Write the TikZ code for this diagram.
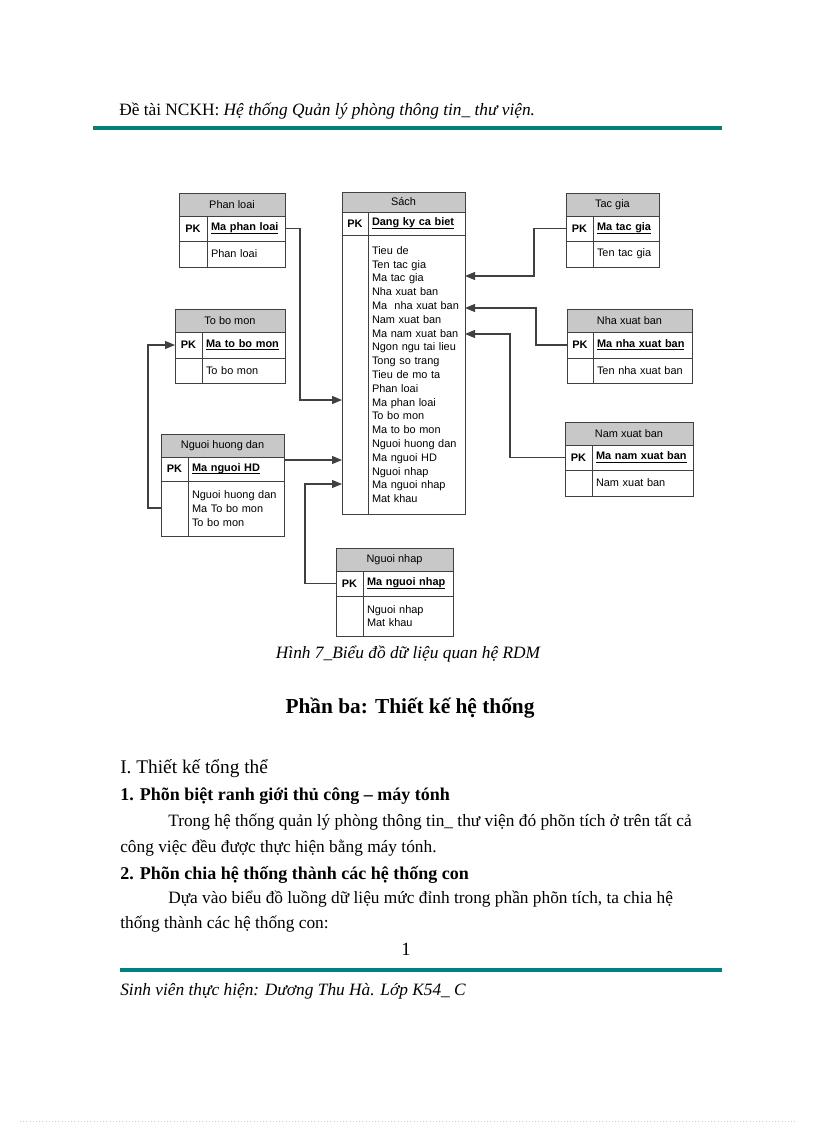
\documentclass[tikz,border=0pt]{standalone}
\usepackage{fontspec}
\setmainfont{Liberation Serif}
\newfontfamily\erfont{Liberation Sans}
\usetikzlibrary{positioning,arrows.meta}
\definecolor{boxline}{RGB}{64,64,64}
\definecolor{headfill}{RGB}{200,200,200}
\definecolor{rulecol}{RGB}{0,128,128}
\newcommand\erkey[1]{\textbf{\underline{\smash{#1}}\vphantom{Ma}}}

\begin{document}
\begin{tikzpicture}[
    x=0.75pt, y=-0.75pt,
    erhead/.style 2 args={draw=boxline, fill=headfill, anchor=north west,
        inner sep=0pt, outer sep=0pt, minimum width=#1*0.75pt,
        minimum height=#2*0.75pt, font=\erfont\fontsize{8.2}{10.35}\selectfont},
    ercell/.style 2 args={draw=boxline, inner sep=0pt, outer sep=0pt,
        minimum width=#1*0.75pt, minimum height=#2*0.75pt,
        font=\erfont\fontsize{8.2}{10.35}\selectfont},
    ertext/.style 2 args={draw=boxline, inner xsep=3pt, inner ysep=0pt,
        outer sep=0pt, text width=#1*0.75pt-6pt, minimum height=#2*0.75pt,
        align=left, font=\erfont\fontsize{8.2}{10.35}\selectfont},
    link/.style={draw=boxline, line width=0.8pt,
        -{Triangle[length=7.5pt, width=6pt]}},
    pagetext/.style={anchor=base west, inner sep=0pt,
        font=\fontsize{13}{15}\selectfont},
    heading/.style={anchor=base west, inner sep=0pt,
        font=\fontsize{13.5}{16}\selectfont\bfseries}
]
    \useasboundingbox (0,0) rectangle (816,1123);
    \fill[white] (0,0) rectangle (816,1123);

    % page header
    \node[pagetext] (topic) at (119,116)
        {Đề tài NCKH: \textit{Hệ thống Quản lý phòng thông tin\_ thư viện.}};
    \fill[rulecol] (93,126) rectangle (722,130);

    % Phan loai
    \node[erhead={106}{23}] (phanloai) at (179,193) {Phan loai};
    \node[ercell={28}{25}, below right=0pt of phanloai.south west] (phanloai-pk) {\textbf{PK}};
    \node[ertext={78}{25}, right=0pt of phanloai-pk] (phanloai-key) {\erkey{Ma phan loai}};
    \node[ercell={28}{26}, below=0pt of phanloai-pk] (phanloai-blank) {};
    \node[ertext={78}{26}, right=0pt of phanloai-blank] (phanloai-attr) {Phan loai};

    % To bo mon
    \node[erhead={110}{23}] (tobomon) at (175,309) {To bo mon};
    \node[ercell={27}{26}, below right=0pt of tobomon.south west] (tobomon-pk) {\textbf{PK}};
    \node[ertext={83}{26}, right=0pt of tobomon-pk] (tobomon-key) {\erkey{Ma to bo mon}};
    \node[ercell={27}{25}, below=0pt of tobomon-pk] (tobomon-blank) {};
    \node[ertext={83}{25}, right=0pt of tobomon-blank] (tobomon-attr) {To bo mon};

    % Nguoi huong dan
    \node[erhead={123}{23}] (huongdan) at (161,434) {Nguoi huong dan};
    \node[ercell={27}{24}, below right=0pt of huongdan.south west] (huongdan-pk) {\textbf{PK}};
    \node[ertext={96}{24}, right=0pt of huongdan-pk] (huongdan-key) {\erkey{Ma nguoi HD}};
    \node[ercell={27}{55}, below=0pt of huongdan-pk] (huongdan-blank) {};
    \node[ertext={96}{55}, right=0pt of huongdan-blank] (huongdan-attr)
        {Nguoi huong dan\\Ma To bo mon\\To bo mon};

    % Sach
    \node[erhead={123}{20}] (sach) at (342,192) {Sách};
    \node[ercell={26}{23}, below right=0pt of sach.south west] (sach-pk) {\textbf{PK}};
    \node[ertext={97}{23}, right=0pt of sach-pk] (sach-key) {\erkey{Dang ky ca biet}};
    \node[ercell={26}{279}, below=0pt of sach-pk] (sach-blank) {};
    \node[ertext={97}{279}, right=0pt of sach-blank] (sach-attr)
        {Tieu de\\Ten tac gia\\Ma tac gia\\Nha xuat ban\\Ma~ nha xuat ban\\
         Nam xuat ban\\Ma nam xuat ban\\Ngon ngu tai lieu\\Tong so trang\\
         Tieu de mo ta\\Phan loai\\Ma phan loai\\To bo mon\\Ma to bo mon\\
         Nguoi huong dan\\Ma nguoi HD\\Nguoi nhap\\Ma nguoi nhap\\Mat khau};

    % Tac gia
    \node[erhead={93}{23}] (tacgia) at (566,193) {Tac gia};
    \node[ercell={27}{25}, below right=0pt of tacgia.south west] (tacgia-pk) {\textbf{PK}};
    \node[ertext={66}{25}, right=0pt of tacgia-pk] (tacgia-key) {\erkey{Ma tac gia}};
    \node[ercell={27}{26}, below=0pt of tacgia-pk] (tacgia-blank) {};
    \node[ertext={66}{26}, right=0pt of tacgia-blank] (tacgia-attr) {Ten tac gia};

    % Nha xuat ban
    \node[erhead={125}{23}] (nhaxb) at (567,309) {Nha xuat ban};
    \node[ercell={26}{26}, below right=0pt of nhaxb.south west] (nhaxb-pk) {\textbf{PK}};
    \node[ertext={99}{26}, right=0pt of nhaxb-pk] (nhaxb-key) {\erkey{Ma nha xuat ban}};
    \node[ercell={26}{25}, below=0pt of nhaxb-pk] (nhaxb-blank) {};
    \node[ertext={99}{25}, right=0pt of nhaxb-blank] (nhaxb-attr) {Ten nha xuat ban};

    % Nam xuat ban
    \node[erhead={128}{23}] (namxb) at (565,422) {Nam xuat ban};
    \node[ercell={27}{25}, below right=0pt of namxb.south west] (namxb-pk) {\textbf{PK}};
    \node[ertext={101}{25}, right=0pt of namxb-pk] (namxb-key) {\erkey{Ma nam xuat ban}};
    \node[ercell={27}{26}, below=0pt of namxb-pk] (namxb-blank) {};
    \node[ertext={101}{26}, right=0pt of namxb-blank] (namxb-attr) {Nam xuat ban};

    % Nguoi nhap
    \node[erhead={117}{23}] (nguoinhap) at (336,548) {Nguoi nhap};
    \node[ercell={27}{25}, below right=0pt of nguoinhap.south west] (nguoinhap-pk) {\textbf{PK}};
    \node[ertext={90}{25}, right=0pt of nguoinhap-pk] (nguoinhap-key) {\erkey{Ma nguoi nhap}};
    \node[ercell={27}{40}, below=0pt of nguoinhap-pk] (nguoinhap-blank) {};
    \node[ertext={90}{40}, right=0pt of nguoinhap-blank] (nguoinhap-attr) {Nguoi nhap\\Mat khau};

    % links
    \draw[link] (phanloai-key.east) -- ++(15,0) |- (sach-blank.west |- 0,400);
    \draw[link] (huongdan-key.east |- 0,460) -- (sach-blank.west |- 0,460);
    \draw[link] (nguoinhap-pk.west) -- ++(-31,0) |- (sach-blank.west |- 0,484);
    \draw[link] (huongdan-blank.west |- 0,508) -- ++(-13,0) |- (tobomon-pk.west);
    \draw[link] (tacgia-pk.west) -- ++(-32,0) |- (sach-attr.east |- 0,276);
    \draw[link] (nhaxb-pk.west) -- ++(-31,0) |- (sach-attr.east |- 0,308);
    \draw[link] (namxb-pk.west) -- ++(-55,0) |- (sach-attr.east |- 0,334);

    % page text
    \node[anchor=base, inner sep=0pt, font=\fontsize{13}{15}\selectfont\itshape]
        (caption) at (408,658) {Hình 7\_Biểu đồ dữ liệu quan hệ RDM};
    \node[anchor=base, inner sep=0pt, font=\fontsize{16}{19}\selectfont\bfseries]
        (part) at (410,713) {Phần ba: Thiết kế hệ thống};
    \node[anchor=base west, inner sep=0pt, font=\fontsize{14.5}{17}\selectfont]
        (sec1) at (120,773) {I. Thiết kế tổng thể};
    \node[heading] (sub1) at (120,800) {1. Phõn biệt ranh giới thủ công -- máy tónh};
    \node[pagetext] (par1a) at (168,826)
        {Trong hệ thống quản lý phòng thông tin\_ thư viện đó phõn tích ở trên tất cả};
    \node[pagetext] (par1b) at (120,852) {công việc đều được thực hiện bằng máy tónh.};
    \node[heading] (sub2) at (120,879) {2. Phõn chia hệ thống thành các hệ thống con};
    \node[pagetext] (par2a) at (168,903)
        {Dựa vào biểu đồ luồng dữ liệu mức đỉnh trong phần phõn tích, ta chia hệ};
    \node[pagetext] (par2b) at (120,928) {thống thành các hệ thống con:};
    \node[anchor=base, inner sep=0pt, font=\fontsize{14}{16}\selectfont]
        (pageno) at (406,955) {1};

    % page footer
    \fill[rulecol] (120,968) rectangle (722,972);
    \node[pagetext, font=\fontsize{13}{15}\selectfont\itshape] (author) at (120,995)
        {Sinh viên thực hiện: Dương Thu Hà. Lớp K54\_ C};
    \draw[gray!40, dotted] (20,1121) -- (796,1121);
\end{tikzpicture}
\end{document}
